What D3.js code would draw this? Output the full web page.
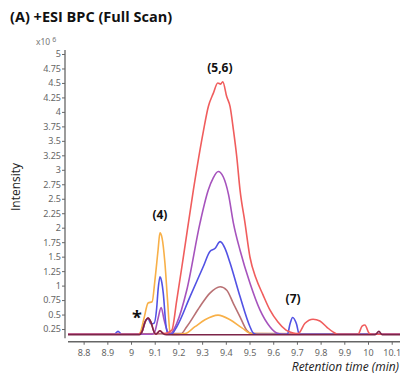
<!DOCTYPE html>
<html>
<head>
<meta charset="utf-8">
<style>
body { margin: 0; background: #fff; }
svg { display: block; font-family: "Open Sans", sans-serif; }
.axis text { fill: #666; font-size: 9px; font-family: "Noto Sans", sans-serif; }
.axis line { stroke: #666; }
.axis path { display: none; }
.trace { fill: none; stroke-width: 1.6px; stroke-linejoin: round; }
</style>
</head>
<body>
<svg width="401" height="376"></svg>
<script src="https://cdn.jsdelivr.net/npm/d3@7"></script>
<script>

// retention time (min), intensity (x10^6)
var redTrace = [[8.734,0.16],[9.03,0.16],[9.046,0.2],[9.059,0.37],[9.072,0.44],[9.084,0.37],[9.097,0.2],[9.105,0.16],
  [9.122,0.22],[9.135,0.18],[9.143,0.17],[9.172,0.23],[9.193,0.75],[9.221,1.5],[9.263,2.65],[9.305,3.66],[9.326,4.09],
  [9.347,4.32],[9.366,4.5],[9.378,4.48],[9.387,4.52],[9.404,4.26],[9.418,4.09],[9.432,3.69],[9.446,3.23],[9.46,2.65],
  [9.481,2.08],[9.502,1.49],[9.527,1.13],[9.557,0.84],[9.586,0.58],[9.62,0.37],[9.654,0.23],[9.684,0.18],[9.705,0.17],
  [9.734,0.35],[9.768,0.42],[9.797,0.39],[9.827,0.28],[9.852,0.2],[9.873,0.16],[9.958,0.16],[9.975,0.3],[9.987,0.32],
  [10.004,0.18],[10.017,0.16],[10.135,0.16]];
var purpleTrace = [[8.734,0.16],[9.09,0.16],[9.1,0.2],[9.115,0.45],[9.127,0.62],[9.14,0.4],[9.155,0.2],[9.165,0.17],
  [9.193,0.35],[9.235,0.92],[9.291,2.08],[9.326,2.65],[9.347,2.86],[9.368,2.97],[9.389,2.88],[9.411,2.58],[9.432,2.08],
  [9.46,1.61],[9.502,1.04],[9.544,0.58],[9.586,0.29],[9.615,0.18],[9.637,0.16],[10.135,0.16]];
var blueTrace = [[8.734,0.16],[8.93,0.16],[8.945,0.21],[8.96,0.16],[9.04,0.16],[9.05,0.24],[9.062,0.4],[9.072,0.43],
  [9.084,0.34],[9.097,0.35],[9.108,0.6],[9.114,0.92],[9.122,1.15],[9.13,1.05],[9.136,0.87],[9.148,0.29],[9.156,0.17],
  [9.17,0.16],[9.193,0.29],[9.249,0.81],[9.305,1.33],[9.333,1.59],[9.354,1.64],[9.376,1.76],[9.397,1.64],[9.418,1.39],
  [9.46,0.81],[9.502,0.29],[9.516,0.18],[9.53,0.16],[9.66,0.16],[9.671,0.34],[9.682,0.45],[9.698,0.34],[9.71,0.16],
  [10.135,0.16]];
var brownTrace = [[8.734,0.16],[9.211,0.17],[9.235,0.29],[9.291,0.64],[9.333,0.87],[9.376,0.98],[9.404,0.92],
  [9.432,0.69],[9.46,0.46],[9.488,0.23],[9.51,0.17],[10.135,0.16]];
var orangeTrace = [[8.734,0.16],[9.03,0.16],[9.038,0.18],[9.055,0.44],[9.072,0.7],[9.089,0.72],[9.101,1.1],[9.114,1.61],
  [9.122,1.91],[9.131,1.82],[9.143,1.39],[9.154,0.75],[9.165,0.18],[9.173,0.155],[9.228,0.17],[9.27,0.29],[9.312,0.41],
  [9.367,0.49],[9.418,0.41],[9.468,0.27],[9.51,0.17],[10.135,0.16]];
var darkTrace = [[8.734,0.15],[9.035,0.15],[9.046,0.2],[9.059,0.37],[9.072,0.44],[9.084,0.37],[9.097,0.2],[9.105,0.16],
  [9.122,0.22],[9.135,0.17],[9.15,0.15],[10.03,0.15],[10.046,0.21],[10.06,0.15],[10.135,0.15]];

var series = [
  {name: "brown", color: "#b97174", values: brownTrace},
  {name: "orange", color: "#f8b048", values: orangeTrace},
  {name: "purple", color: "#a653bd", values: purpleTrace},
  {name: "blue", color: "#5252e4", values: blueTrace},
  {name: "red", color: "#f05d5d", values: redTrace},
  {name: "dark", color: "#7c2448", values: darkTrace}
];

var yTicks = [0.25,0.5,0.75,1,1.25,1.5,1.75,2,2.25,2.5,2.75,3,3.25,3.5,3.75,4,4.25,4.5,4.75,5];
var xTicks = [8.8,8.9,9,9.1,9.2,9.3,9.4,9.5,9.6,9.7,9.8,9.9,10,10.1];

var peakLabels = [
  {text: "(4)", t: 9.122, v: 2.15},
  {text: "(5,6)", t: 9.375, v: 4.69},
  {text: "(7)", t: 9.684, v: 0.7}
];

var svg = d3.select("svg");

var x = d3.scaleLinear().domain([8.734, 10.135]).range([68, 400]);
var y = d3.scaleLinear().domain([0, 5]).range([343.5, 54]);
var fmt = d3.format("~g");

// title
svg.append("text")
    .attr("x", 10).attr("y", 22)
    .attr("font-size", 14.5).attr("font-weight", "bold")
    .attr("fill", "#111")
    .text("(A) +ESI BPC (Full Scan)");

// exponent
var ex = svg.append("text")
    .attr("x", 36).attr("y", 45)
    .attr("font-size", 8.5).attr("fill", "#777")
    .attr("font-family", "Noto Sans, sans-serif")
    .text("x10");
ex.append("tspan").attr("dy", -3).attr("dx", 2).attr("font-size", 7).text("6");

// axis lines
svg.append("line")
    .attr("x1", 65).attr("x2", 65)
    .attr("y1", y(5.07)).attr("y2", y(0.09))
    .attr("stroke", "#666").attr("stroke-width", 1.3);
svg.append("line")
    .attr("x1", x(8.734)).attr("x2", x(10.135))
    .attr("y1", y(0.03)).attr("y2", y(0.03))
    .attr("stroke", "#666").attr("stroke-width", 1.3);

svg.append("g")
    .attr("class", "axis axis--y")
    .attr("transform", "translate(65,0)")
    .call(d3.axisLeft(y).tickValues(yTicks).tickFormat(fmt).tickSize(3).tickPadding(1));

svg.append("g")
    .attr("class", "axis axis--x")
    .attr("transform", "translate(0," + y(0.03) + ")")
    .call(d3.axisBottom(x).tickValues(xTicks).tickFormat(fmt).tickSize(3).tickPadding(5));

// axis titles
svg.append("text")
    .attr("transform", "translate(20,187) rotate(-90)")
    .attr("text-anchor", "middle")
    .attr("font-size", 12).attr("fill", "#222")
    .text("Intensity");

svg.append("text")
    .attr("x", 399).attr("y", 371)
    .attr("text-anchor", "end")
    .attr("font-size", 12).attr("font-style", "italic").attr("fill", "#222")
    .text("Retention time (min)");

var line = d3.line()
    .x(function(d) { return x(d[0]); })
    .y(function(d) { return y(d[1]); })
    .curve(d3.curveMonotoneX);

svg.append("g").selectAll("path")
    .data(series)
    .enter().append("path")
    .attr("class", "trace")
    .attr("stroke", function(d) { return d.color; })
    .attr("d", function(d) { return line(d.values); });

svg.append("g").selectAll("text")
    .data(peakLabels)
    .enter().append("text")
    .attr("x", function(d) { return x(d.t); })
    .attr("y", function(d) { return y(d.v); })
    .attr("text-anchor", "middle")
    .attr("font-size", 12).attr("font-weight", "bold").attr("fill", "#111")
    .text(function(d) { return d.text; });

svg.append("text")
    .attr("x", x(9.025)).attr("y", y(0.34))
    .attr("text-anchor", "middle")
    .attr("font-size", 18).attr("font-weight", "bold").attr("fill", "#111")
    .text("*");

</script>
</body>
</html>
